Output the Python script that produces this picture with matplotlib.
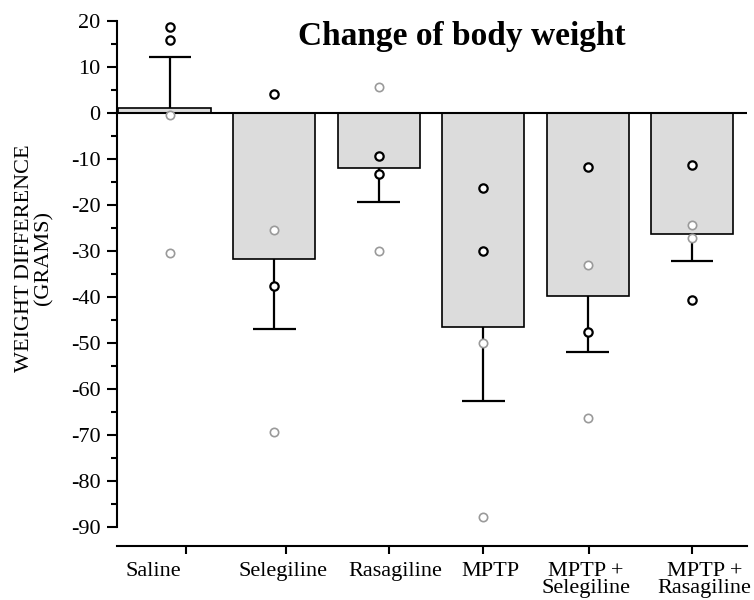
import numpy as np
import matplotlib
matplotlib.use("Agg")
import matplotlib.pyplot as plt
from matplotlib.ticker import MultipleLocator

plt.rcParams["font.family"] = ["Liberation Serif", "DejaVu Serif"]
plt.rcParams["axes.unicode_minus"] = False

groups = ["Saline", "Selegiline", "Rasagiline", "MPTP", "MPTP +\nSelegiline", "MPTP +\nRasagiline"]
means = [1.0, -31.7, -11.9, -46.5, -39.8, -26.4]
# one-sided SEM: upward for saline, downward for the others
err = [11.2, -15.3, -7.5, -16.0, -12.1, -5.7]

# individual animals per group
pts_dark = [[18.8, 15.9], [4.1, -37.6], [-9.3, -13.3], [-16.4, -29.9], [-11.7, -47.5], [-11.3, -40.7]]
pts_light = [[-0.4, -30.5], [-25.4, -69.3], [5.6, -29.9], [-49.9, -87.9], [-33.0, -66.2], [-24.3, -27.2]]

x = np.arange(len(groups))
tick_pos = [0.15, 1.11, 2.10, 3.0, 4.01, 5.0]
label_pos = [-0.16, 1.08, 2.16, 3.07, 3.98, 5.12]

fig = plt.figure(figsize=(7.54, 6.0), dpi=100)
ax = fig.add_axes([117 / 754, 54 / 600, 630 / 754, 525 / 600])

xmin, xmax = -0.508, 5.527
w = 0.785
lefts = x - w / 2
lefts[0] = -0.5
rights = x + w / 2
rights[0] = 0.39
ax.bar(lefts, means, width=rights - lefts, align="edge", color="#dcdcdc",
       edgecolor="black", linewidth=1.2, zorder=2)
ax.axhline(0, color="black", lw=1.5, zorder=3)

ends = np.array(means) + np.array(err)
cap = 0.205
ax.vlines(x, means, ends, color="black", lw=1.6, zorder=3)
ax.hlines(ends, x - cap, x + cap, color="black", lw=1.6, zorder=3)

for i in range(len(groups)):
    ax.plot([x[i]] * len(pts_light[i]), pts_light[i], "o", ms=6, mfc="white",
            mec="#9a9a9a", mew=1.2, zorder=4)
    ax.plot([x[i]] * len(pts_dark[i]), pts_dark[i], "o", ms=6, mfc="white",
            mec="black", mew=1.6, zorder=5)

ax.set_xlim(xmin, xmax)
ax.set_ylim(-94.1, 20)
ax.spines["top"].set_visible(False)
ax.spines["right"].set_visible(False)
ax.spines["left"].set_bounds(-90, 20)
ax.spines["left"].set_linewidth(1.5)
ax.spines["bottom"].set_linewidth(1.5)

ax.set_yticks(np.arange(-90, 21, 10))
ax.yaxis.set_minor_locator(MultipleLocator(5))
ax.tick_params(axis="y", which="major", length=7, width=1.5, labelsize=16, pad=5)
ax.tick_params(axis="y", which="minor", length=4, width=1.5)
ax.set_xticks(tick_pos)
ax.set_xticklabels([])
ax.tick_params(axis="x", length=6, width=1.5)

for lp, g in zip(label_pos, groups):
    ax.text(lp, -0.03, g, transform=ax.get_xaxis_transform(), ha="center",
            va="top", fontsize=16, linespacing=0.9)

fig.text(34 / 754, 1 - 258 / 600, "WEIGHT DIFFERENCE\n(GRAMS)", rotation=90,
         ha="center", va="center", fontsize=16, linespacing=1.0)
fig.text(462 / 754, 1 - 36 / 600, "Change of body weight", ha="center",
         va="center", fontsize=24, fontweight="bold")

fig.savefig("out.png", dpi=100)
